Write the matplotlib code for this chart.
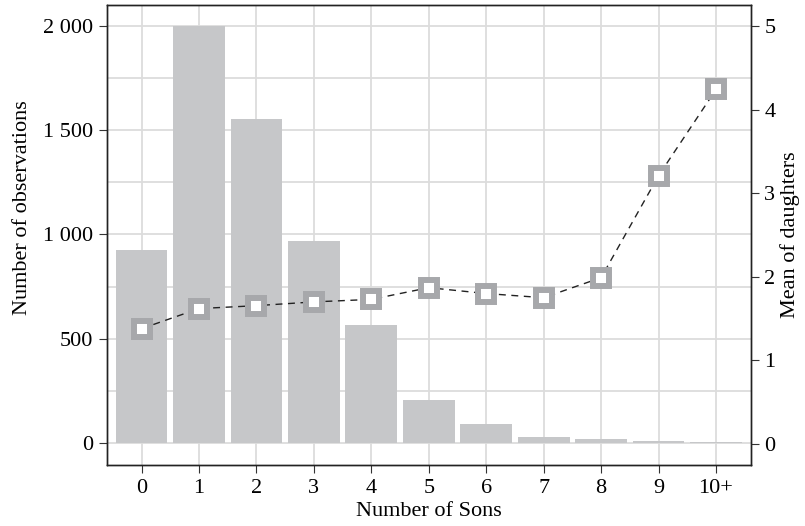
import numpy as np
import matplotlib.pyplot as plt
from matplotlib.ticker import MultipleLocator, FuncFormatter

plt.rcParams['font.family'] = ['Liberation Serif', 'DejaVu Serif']

# data
sons = ['0', '1', '2', '3', '4', '5', '6', '7', '8', '9', '10+']
n_obs = [926, 2000, 1555, 970, 565, 206, 92, 29, 19, 10, 5]
mean_daughters = [1.38, 1.62, 1.655, 1.70, 1.73, 1.87, 1.80, 1.75, 1.99, 3.21, 4.24]

x = np.arange(len(sons))

fig = plt.figure(figsize=(8.05, 5.26), dpi=100)
ax = fig.add_axes([0.133, 0.116, 0.7993, 0.8745])

ax.bar(x, n_obs, width=0.9, color='#c6c7c9', zorder=2)
ax.set_xlim(-0.6, 10.6)
ax.set_ylim(-105, 2100)
ax.yaxis.set_major_locator(MultipleLocator(500))
ax.yaxis.set_minor_locator(MultipleLocator(250))
ax.yaxis.set_major_formatter(FuncFormatter(lambda v, p: f'{int(v):,}'.replace(',', ' ')))
ax.set_xticks(x)
ax.set_xticklabels(sons)
ax.grid(True, which='both', color='#dcdcdc', linewidth=1.3, zorder=0)
ax.set_axisbelow(True)
ax.tick_params(axis='both', which='major', direction='out', length=6, width=0.8,
               pad=4, labelsize=16, color='#333333')
ax.tick_params(axis='y', which='minor', length=0)
ax.set_xlabel('Number of Sons', fontsize=16, labelpad=3)
ax.set_ylabel('Number of observations', fontsize=16)
ax.yaxis.set_label_coords(-0.116, 0.56)

ax2 = ax.twinx()
ax2.plot(x, mean_daughters, linestyle=(0, (5, 4)), color='#222222', linewidth=1.0,
         marker='s', markersize=11, markeredgewidth=4.3,
         markerfacecolor='white', markeredgecolor='#a7a8ab', zorder=3)
ax2.set_ylim(-0.25, 5.25)
ax2.yaxis.set_major_locator(MultipleLocator(1))
ax2.tick_params(axis='y', direction='out', length=6, width=0.8, pad=4,
                labelsize=16, color='#333333')
ax2.set_ylabel('Mean of daughters', fontsize=16, labelpad=3)

for a in (ax, ax2):
    for s in a.spines.values():
        s.set_color('#222222')
        s.set_linewidth(1.0)

fig.savefig('out.png', dpi=100)
